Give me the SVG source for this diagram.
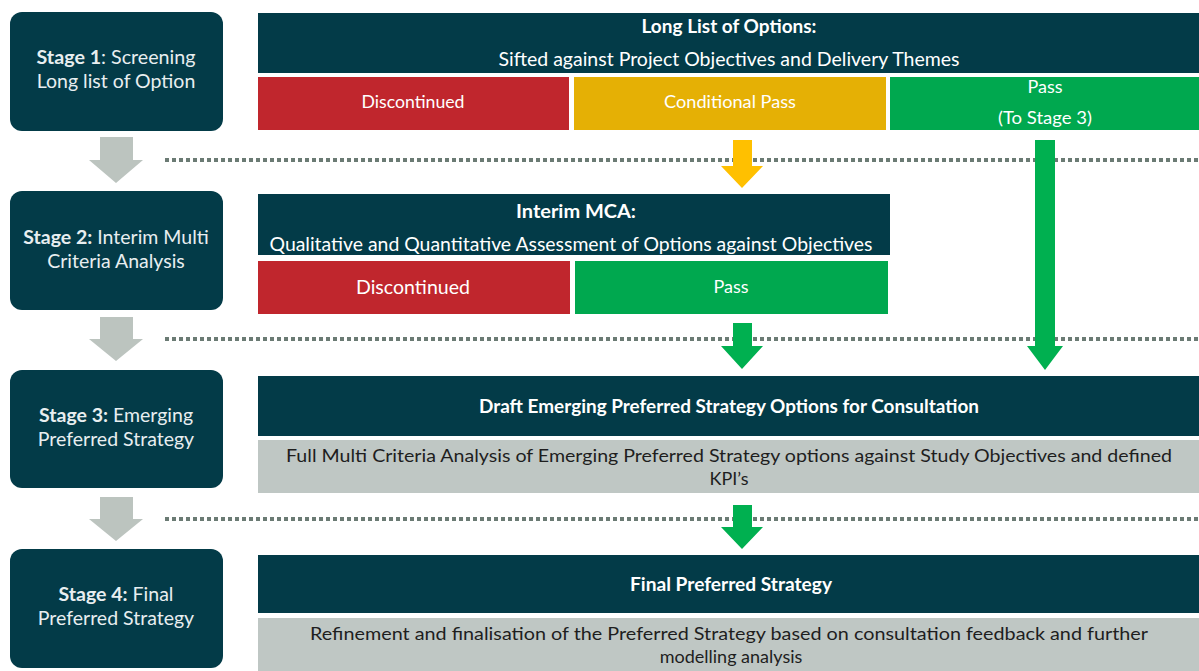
<svg xmlns="http://www.w3.org/2000/svg" width="1199" height="671" viewBox="0 0 1199 671">
<style>
.stage{fill:#033b48}
.hdr{fill:#033b48}
.red{fill:#c0262d}
.yel{fill:#e5b005}
.grn{fill:#00a84f}
.gry{fill:#bfc7c4}
text{font-family:Lato,"Open Sans",sans-serif}
.st{fill:#e8eef0;font-size:19.5px;text-anchor:middle}
.b{font-weight:bold}
.w{fill:#ffffff;font-size:18px;text-anchor:middle}
.h{font-size:19.5px}
.d{fill:#1e1e1e;font-size:18px;text-anchor:middle}
.dot{stroke:#6b7b74;stroke-width:4;stroke-dasharray:4 3;fill:none}
</style>
<rect width="1199" height="671" fill="#ffffff"/>
<g id="stage1"><rect class="stage" x="10" y="12" width="213" height="119" rx="12"/>
<text class="st" x="116" y="64" textLength="159" lengthAdjust="spacingAndGlyphs"><tspan class="b">Stage 1</tspan>: Screening</text>
<text class="st" x="116" y="88">Long list of Option</text></g>
<g id="stage2"><rect class="stage" x="10" y="191" width="213" height="119" rx="12"/>
<text class="st" x="116" y="244"><tspan class="b">Stage 2:</tspan> Interim Multi</text>
<text class="st" x="116" y="268">Criteria Analysis</text></g>
<g id="stage3"><rect class="stage" x="10" y="370" width="213" height="118" rx="12"/>
<text class="st" x="116" y="422"><tspan class="b">Stage 3:</tspan> Emerging</text>
<text class="st" x="116" y="446">Preferred Strategy</text></g>
<g id="stage4"><rect class="stage" x="10" y="549" width="213" height="119" rx="12"/>
<text class="st" x="116" y="601"><tspan class="b">Stage 4:</tspan> Final</text>
<text class="st" x="116" y="625">Preferred Strategy</text></g>

<g id="longlist"><rect class="hdr" x="258" y="13" width="941" height="60"/>
<text class="w b h" x="729" y="33" textLength="175" lengthAdjust="spacingAndGlyphs">Long List of Options:</text>
<text class="w h" x="729" y="66" textLength="461" lengthAdjust="spacingAndGlyphs">Sifted against Project Objectives and Delivery Themes</text></g>
<g id="disc1"><rect class="red" x="258" y="77" width="311" height="53"/>
<text class="w" x="413" y="108" textLength="103" lengthAdjust="spacingAndGlyphs">Discontinued</text></g>
<g id="cond"><rect class="yel" x="574" y="77" width="312" height="53"/>
<text class="w" x="730" y="108" textLength="132" lengthAdjust="spacingAndGlyphs">Conditional Pass</text></g>
<g id="pass1"><rect class="grn" x="890" y="77" width="309" height="53"/>
<text class="w" x="1045" y="93">Pass</text>
<text class="w" x="1045" y="124" textLength="94" lengthAdjust="spacingAndGlyphs">(To Stage 3)</text></g>

<g id="interim"><rect class="hdr" x="258" y="194" width="632" height="61"/>
<text class="w b h" x="576" y="218" textLength="120" lengthAdjust="spacingAndGlyphs">Interim MCA:</text>
<text class="w h" x="571" y="251" textLength="603" lengthAdjust="spacingAndGlyphs">Qualitative and Quantitative Assessment of Options against Objectives</text></g>
<g id="disc2"><rect class="red" x="258" y="261" width="312" height="53"/>
<text class="w h" x="413" y="294" textLength="114" lengthAdjust="spacingAndGlyphs">Discontinued</text></g>
<g id="pass2"><rect class="grn" x="575" y="261" width="313" height="53"/>
<text class="w" x="731" y="293">Pass</text></g>

<g id="draft"><rect class="hdr" x="258" y="376" width="941" height="60"/>
<text class="w b h" x="729" y="413" textLength="500" lengthAdjust="spacingAndGlyphs">Draft Emerging Preferred Strategy Options for Consultation</text></g>
<g id="fullmca"><rect class="gry" x="258" y="440" width="941" height="53"/>
<text class="d" x="729" y="462" textLength="886" lengthAdjust="spacingAndGlyphs">Full Multi Criteria Analysis of Emerging Preferred Strategy options against Study Objectives and defined</text>
<text class="d" x="729" y="485">KPI’s</text></g>

<g id="final"><rect class="hdr" x="258" y="555" width="941" height="58"/>
<text class="w b h" x="731" y="591" textLength="202" lengthAdjust="spacingAndGlyphs">Final Preferred Strategy</text></g>
<g id="refine"><rect class="gry" x="258" y="618" width="941" height="53"/>
<text class="d" x="729" y="640" textLength="838" lengthAdjust="spacingAndGlyphs">Refinement and finalisation of the Preferred Strategy based on consultation feedback and further</text>
<text class="d" x="731" y="663">modelling analysis</text></g>

<g id="connectors">
<line class="dot" x1="165" y1="160" x2="1199" y2="160"/>
<line class="dot" x1="165" y1="339" x2="1199" y2="339"/>
<line class="dot" x1="165" y1="519" x2="1199" y2="519"/>
<polygon fill="#bcc4bf" points="100,137 133,137 133,160 143,160 116,183 89,160 100,160"/>
<polygon fill="#bcc4bf" points="100,317 133,317 133,339 143,339 116,361 89,339 100,339"/>
<polygon fill="#bcc4bf" points="100,497 133,497 133,519 143,519 116,541 89,519 100,519"/>
<polygon fill="#ffc000" points="733,140 752,140 752,166 763,166 742,188 721,166 733,166"/>
<polygon fill="#00b050" points="1035,140 1055,140 1055,346 1063,346 1045,370 1027,346 1035,346"/>
<polygon fill="#00b050" points="733,323 752,323 752,346 763,346 742,369 721,346 733,346"/>
<polygon fill="#00b050" points="733,505 752,505 752,527 763,527 742,549 721,527 733,527"/>
</g>
</svg>
